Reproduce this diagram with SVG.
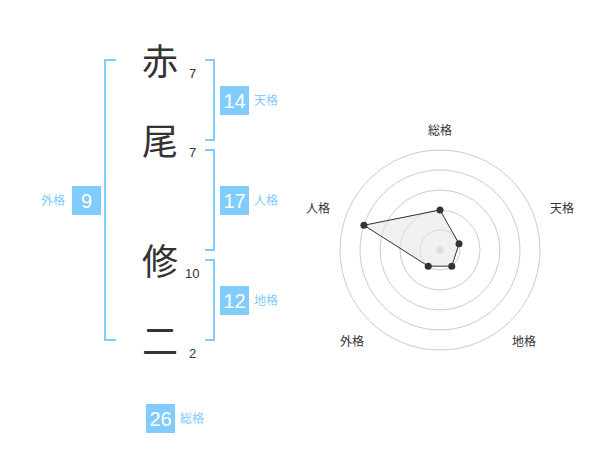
<svg xmlns="http://www.w3.org/2000/svg" width="600" height="470" viewBox="0 0 600 470">
<style>
.ch{font-family:"Noto Sans CJK JP","Noto Sans CJK SC",sans-serif;font-size:36px;fill:#333;text-anchor:middle}
.st{font-family:"Liberation Sans",Arial,sans-serif;font-size:13px;fill:#333}
.box{fill:#80ccfd}
.bn{font-family:"Liberation Sans",Arial,sans-serif;font-size:20px;fill:#fff;text-anchor:middle}
.bl{font-family:"Noto Sans CJK JP",sans-serif;font-size:12px;fill:#80ccfd}
.br{fill:none;stroke:#80ccfd;stroke-width:2}
.ring{fill:none;stroke:#ccc;stroke-width:1}
.rl{font-family:"Noto Sans CJK JP",sans-serif;font-size:12px;fill:#333;text-anchor:middle}
</style>
<rect width="600" height="470" fill="#fff"/>
<g id="connectors">
<path class="br" d="M116,60 H105 V340 H116"/>
<path class="br" d="M205,60 H214 V140 H205"/>
<path class="br" d="M205,150 H214 V250 H205"/>
<path class="br" d="M205,260 H214 V340 H205"/>
</g>
<g id="char1"><text class="ch" x="160" y="75">赤</text><text class="st" x="189" y="78">7</text></g>
<g id="char2"><text class="ch" x="160" y="155">尾</text><text class="st" x="189" y="157">7</text></g>
<g id="char3"><text class="ch" x="160" y="275">修</text><text class="st" x="185" y="278">10</text></g>
<g id="char4"><text class="ch" x="160" y="355">二</text><text class="st" x="189" y="358">2</text></g>
<g id="tenkaku"><rect class="box" x="220" y="86" width="29" height="29"/><text class="bn" x="234.5" y="108">14</text><text class="bl" x="254" y="105">天格</text></g>
<g id="jinkaku"><rect class="box" x="220" y="186" width="29" height="29"/><text class="bn" x="234.5" y="208">17</text><text class="bl" x="254" y="205">人格</text></g>
<g id="chikaku"><rect class="box" x="220" y="286" width="29" height="29"/><text class="bn" x="234.5" y="308">12</text><text class="bl" x="254" y="305">地格</text></g>
<g id="gaikaku"><rect class="box" x="72" y="186" width="29" height="29"/><text class="bn" x="86.5" y="208">9</text><text class="bl" x="41" y="205">外格</text></g>
<g id="soukaku"><rect class="box" x="146" y="404" width="29" height="29"/><text class="bn" x="160.5" y="426">26</text><text class="bl" x="180" y="423">総格</text></g>
<g id="radar">
<circle class="ring" cx="440" cy="250" r="20"/>
<circle class="ring" cx="440" cy="250" r="40"/>
<circle class="ring" cx="440" cy="250" r="60"/>
<circle class="ring" cx="440" cy="250" r="80"/>
<circle class="ring" cx="440" cy="250" r="100"/>
<circle cx="440" cy="250" r="3.5" fill="#ccc"/>
<polygon points="440,210 459.02,243.82 451.76,266.18 428.24,266.18 363.92,225.28" fill="#e6e6e6" fill-opacity="0.6" stroke="#333" stroke-width="1"/>
<g fill="#333">
<circle cx="440" cy="210" r="3.5"/>
<circle cx="459.02" cy="243.82" r="3.5"/>
<circle cx="451.76" cy="266.18" r="3.5"/>
<circle cx="428.24" cy="266.18" r="3.5"/>
<circle cx="363.92" cy="225.28" r="3.5"/>
</g>
<text class="rl" x="440" y="135">総格</text>
<text class="rl" x="562" y="213">天格</text>
<text class="rl" x="318" y="213">人格</text>
<text class="rl" x="352" y="346">外格</text>
<text class="rl" x="524" y="346">地格</text>
</g>
</svg>
